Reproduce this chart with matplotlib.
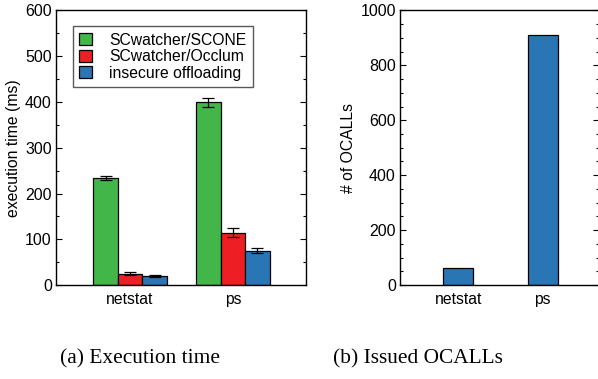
import matplotlib
matplotlib.use("Agg")
import matplotlib.pyplot as plt
from matplotlib.ticker import MultipleLocator
import numpy as np

# Data
commands = ["netstat", "ps"]
series = ["SCwatcher/SCONE", "SCwatcher/Occlum", "insecure offloading"]
exec_time = [[234, 399], [25, 114], [19, 75]]
exec_err = [[4, 10], [3, 10], [2, 6]]
ocalls = [61, 912]
colors = ["#43b649", "#ee1f24", "#2a76b4"]

plt.rcParams['font.family'] = ['Liberation Sans', 'DejaVu Sans']
plt.rcParams['font.size'] = 11

fig = plt.figure(figsize=(5.98, 3.79), dpi=100)

def style_axis(ax, major, minor):
    ax.yaxis.set_major_locator(MultipleLocator(major))
    ax.yaxis.set_minor_locator(MultipleLocator(minor))
    ax.tick_params(axis='y', which='both', direction='in', left=True, right=True, labelsize=11.5)
    ax.tick_params(axis='y', which='major', length=4, width=0.8, pad=3)
    ax.tick_params(axis='y', which='minor', length=2.5, width=0.8)
    ax.tick_params(axis='x', length=0, labelsize=11.3, pad=5)
    for s in ax.spines.values():
        s.set_linewidth(1.0)

# (a) Execution time
ax1 = fig.add_axes([0.0936, 0.248, 0.418, 0.7243])
x = np.arange(len(commands))
w = 0.238
for i, name in enumerate(series):
    ax1.bar(x + (i - 1) * w, exec_time[i], w, color=colors[i], edgecolor='black',
            linewidth=0.9, label=name, yerr=exec_err[i],
            error_kw=dict(ecolor='black', elinewidth=0.9, capsize=4.5, capthick=0.9))
ax1.set_xlim(-0.72, 1.71)
ax1.set_ylim(0, 600)
ax1.set_xticks(x)
ax1.set_xticklabels(commands)
ax1.set_ylabel("execution time (ms)", fontsize=11.3, labelpad=3)
style_axis(ax1, 100, 50)
leg = ax1.legend(loc='upper left', bbox_to_anchor=(0.068, 0.942), fontsize=11.3,
                 frameon=True, fancybox=False, edgecolor='0.35', framealpha=1,
                 handlelength=0.8, handleheight=0.8, handletextpad=1.1,
                 labelspacing=0.1, borderpad=0.4, borderaxespad=0)
leg.get_frame().set_linewidth(1.0)

# (b) Issued OCALLs
ax2 = fig.add_axes([0.6689, 0.248, 0.3328, 0.7243])
ax2.bar(x, ocalls, 0.357, color=colors[2], edgecolor='black', linewidth=0.9)
ax2.set_xlim(-0.69, 1.667)
ax2.set_ylim(0, 1000)
ax2.set_xticks(x)
ax2.set_xticklabels(commands)
ax2.set_ylabel("# of OCALLs", fontsize=11.3, labelpad=3)
style_axis(ax2, 200, 50)

# Captions
fig.text(0.234, 0.053, "(a) Execution time", ha='center', va='center',
         fontsize=15.4, family=['Liberation Serif', 'DejaVu Serif'])
fig.text(0.699, 0.053, "(b) Issued OCALLs", ha='center', va='center',
         fontsize=15.4, family=['Liberation Serif', 'DejaVu Serif'])

fig.savefig("out.png", dpi=100)
